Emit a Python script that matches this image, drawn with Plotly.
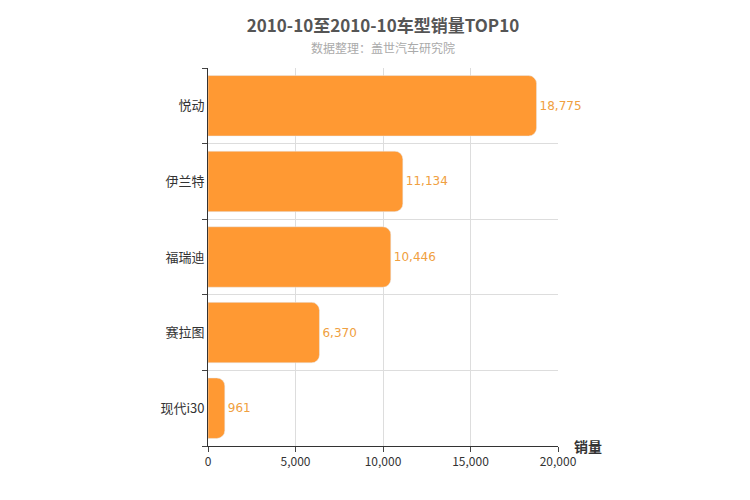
import plotly.graph_objects as go

categories = ["悦动", "伊兰特", "福瑞迪", "赛拉图", "现代i30"]
sales = [18775, 11134, 10446, 6370, 961]
labels = ["18,775", "11,134", "10,446", "6,370", "961"]

fig = go.Figure(go.Bar(
    x=sales, y=categories, orientation="h",
    marker=dict(color="#FF9933", cornerradius=8),
    width=0.8, text=labels, textposition="outside",
    textfont=dict(color="#F0A040", size=12, family="Arial Black, DejaVu Sans"),
    cliponaxis=False,
))
fig.update_layout(
    width=750, height=500, plot_bgcolor="white", paper_bgcolor="white",
    margin=dict(l=200, r=200, t=60, b=62),
    font=dict(family="Noto Sans CJK SC, DejaVu Sans", color="#333"),
    showlegend=False,
    title=dict(text="<b>2010-10至2010-10车型销量TOP10</b>", x=0.5, xanchor="center",
               y=0.975, yanchor="top", font=dict(size=17, color="#555")),
    annotations=[
        dict(text="数据整理：盖世汽车研究院", x=0.5, xref="paper", y=(438 - 40) / 378, yref="paper",
             showarrow=False, font=dict(size=12, color="#AAAAAA"), yanchor="middle"),
        dict(text="<b>销量</b>", x=1.04, xref="paper", y=0, yref="paper", xanchor="left",
             yanchor="middle", showarrow=False, font=dict(size=14, color="#333")),
    ],
)
fig.update_xaxes(range=[0, 20000], tickvals=[0, 5000, 10000, 15000, 20000],
                 ticktext=["0", "5,000", "10,000", "15,000", "20,000"],
                 showgrid=True, gridcolor="#DDDDDD", zeroline=False,
                 showline=True, linecolor="#333", ticks="outside", ticklen=5,
                 tickfont=dict(size=12, color="#333"))
fig.update_yaxes(categoryorder="array", categoryarray=categories[::-1],
                 tickson="boundaries", showgrid=True, gridcolor="#DDDDDD",
                 showline=True, linecolor="#333", ticks="outside", ticklen=5,
                 tickfont=dict(size=13, color="#333"))
fig.write_html("out.html")
